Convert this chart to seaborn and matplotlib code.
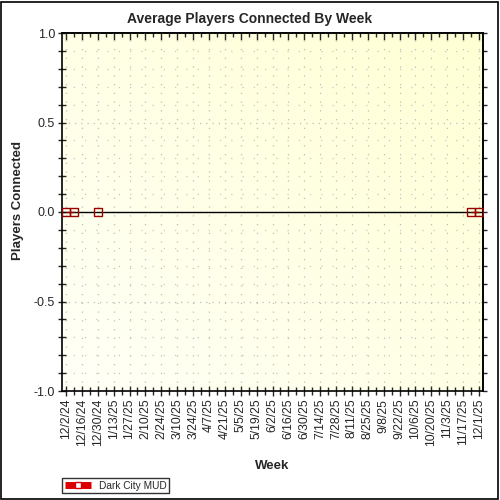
import numpy as np
import pandas as pd
import seaborn as sns
import matplotlib.pyplot as plt
import matplotlib.dates as mdates
from matplotlib.lines import Line2D
from matplotlib.patches import Rectangle

# weekly categories (one row per week) and the weeks that had a reading
weeks = pd.date_range("2024-12-02", "2025-12-01", freq="7D")
seen_weeks = ["2024-12-02", "2024-12-09", "2024-12-30", "2025-11-24", "2025-12-01"]
seen_players = [0.0, 0.0, 0.0, 0.0, 0.0]
series_name = "Dark City MUD"

df = pd.DataFrame({"week": weeks})
df["players"] = pd.Series(seen_players, index=pd.to_datetime(seen_weeks)).reindex(weeks).values
# split into runs so gaps stay gaps
df["run"] = df["players"].isna().cumsum()
df = df.dropna()

sns.set_style("ticks")
plt.rcParams["font.family"] = ["Liberation Sans", "DejaVu Sans"]

fig = plt.figure(figsize=(5, 5), dpi=100)
ax = fig.add_axes([0.124, 0.218, 0.842, 0.716])

# pale yellow gradient behind the plot
g = np.linspace(0, 1, 200)
grad = 1 - (g[None, :] + g[::-1][:, None]) / 2
c0 = np.array([1.0, 1.0, 0.97])
c1 = np.array([1.0, 1.0, 0.83])
img = c1[None, None, :] * (1 - grad[..., None]) + c0[None, None, :] * grad[..., None]
ax.imshow(img, extent=[0, 1, 0, 1], transform=ax.transAxes, aspect="auto", zorder=0)

ax.axhline(0, color="black", lw=1, zorder=2)
sns.lineplot(data=df, x="week", y="players", units="run", estimator=None,
             color="#8b0000", lw=1, marker="s", markersize=5.5,
             markerfacecolor="none", markeredgecolor="#990000",
             markeredgewidth=1, ax=ax, zorder=3, legend=False)

half = pd.Timedelta(days=3.5)
ax.set_xlim(weeks[0] - half, weeks[-1] + half)
ax.set_ylim(-1, 1)

xt_major = mdates.date2num(weeks[::2])
xt_minor = mdates.date2num(weeks)
ax.set_xticks(xt_major)
ax.set_xticklabels([f"{d.month}/{d.day}/{d.year % 100}" for d in weeks[::2]],
                   rotation=90, fontsize=8.7)
ax.set_xticks(xt_minor, minor=True)
ax.set_yticks([-1, -0.5, 0, 0.5, 1])
ax.set_yticklabels(["-1.0", "-0.5", "0.0", "0.5", "1.0"], fontsize=9)
ax.set_yticks(np.arange(-1, 1.01, 0.1), minor=True)

ax.tick_params(axis="x", which="major", direction="inout", length=7, width=1, pad=2)
ax.tick_params(axis="x", which="minor", direction="inout", length=6, width=1)
ax.tick_params(axis="y", which="both", direction="inout", length=6, width=1, pad=2)

# top ticks point inward, right ticks are short and outward
top = ax.secondary_xaxis("top")
top.set_xticks(xt_major)
top.set_xticks(xt_minor, minor=True)
top.tick_params(which="major", direction="in", length=5, width=1, labeltop=False)
top.tick_params(which="minor", direction="in", length=3, width=1)
right = ax.secondary_yaxis("right")
right.set_yticks([-1, -0.5, 0, 0.5, 1])
right.set_yticks(np.arange(-1, 1.01, 0.1), minor=True)
right.tick_params(which="both", direction="out", length=3, width=1, labelright=False)

for a in (ax, top, right):
    for s in a.spines.values():
        s.set_linewidth(1.2)
        s.set_color("black")

ax.grid(axis="x", which="major", color="#bdbdbd", ls=(0, (1, 6)), lw=0.9)
ax.grid(axis="y", which="minor", color="#c8c8c8", ls=(0, (1, 8)), lw=0.9)
ax.grid(axis="y", which="major", color="#bdbdbd", ls=(0, (1, 4)), lw=0.9)
ax.set_axisbelow(True)

ax.set_xlabel("Week", fontsize=9.5, fontweight="bold", labelpad=10)
ax.set_ylabel("")
fig.text(0.036, 0.6, "Players Connected", rotation=90, fontsize=9.5,
         fontweight="bold", ha="center", va="center")
fig.text(0.5, 0.963, "Average Players Connected By Week", fontsize=10,
         fontweight="bold", ha="center", va="center")

handle = Line2D([], [], color="#dd0000", lw=5, marker="s", markersize=4.5,
                markerfacecolor="white", markeredgecolor="#dd0000",
                solid_capstyle="butt")
leg = fig.legend([handle], [series_name], loc="upper left",
                 bbox_to_anchor=(0.124, 1 - 478 / 500), bbox_transform=fig.transFigure,
                 fontsize=7.3, frameon=True, fancybox=False, handlelength=2.6,
                 borderpad=0.25, handletextpad=0.8, borderaxespad=0)
leg.get_frame().set_edgecolor("black")
leg.get_frame().set_linewidth(1)

fig.patches.append(Rectangle((0.002, 0.003), 0.994, 0.994, transform=fig.transFigure,
                             fill=False, edgecolor="black", lw=1.2))

fig.savefig("out.png", dpi=100, facecolor="white")
